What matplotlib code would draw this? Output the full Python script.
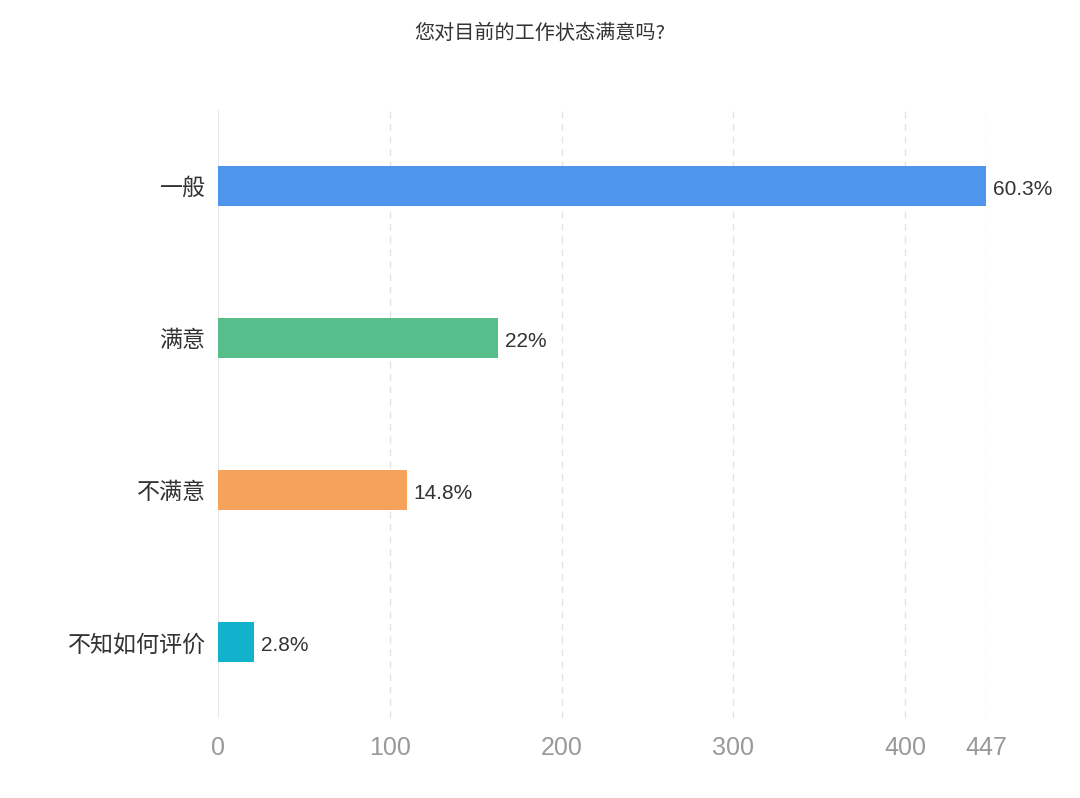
import matplotlib
matplotlib.use('Agg')
import matplotlib.pyplot as plt

plt.rcParams['font.family'] = ['Noto Sans CJK SC', 'DejaVu Sans']
num_font = ['Liberation Sans', 'DejaVu Sans']

categories = ['一般', '满意', '不满意', '不知如何评价']
counts = [447, 163, 110, 21]
pct_labels = ['60.3%', '22%', '14.8%', '2.8%']
colors = ['#4E95EE', '#55BE8A', '#F7A25B', '#10B2CC']
xticks = [0, 100, 200, 300, 400, 447]

fig = plt.figure(figsize=(10.8, 7.98), dpi=100)
ax = fig.add_axes([218/1080, 1-718/798, 768/1080, 608/798])

ypos = list(range(len(categories)))
ax.barh(ypos, counts, height=0.26, color=colors, zorder=3)
for y, c, t in zip(ypos, counts, pct_labels):
    ax.text(c + 4, y + 0.02, t, va='center', ha='left', fontsize=15,
            color='#333333', family=num_font)

ax.set_ylim(len(categories) - 0.5, -0.5)
ax.set_xlim(0, 447)
ax.set_yticks(ypos)
ax.set_yticklabels(categories, fontsize=16.6, color='#333333')
ax.set_xticks(xticks)
ax.set_xticklabels([str(v) for v in xticks], fontsize=18, color='#999999',
                   family=num_font)
ax.tick_params(axis='both', length=0)
ax.tick_params(axis='y', pad=9)
ax.tick_params(axis='x', pad=13)

for v in xticks[1:]:
    ax.axvline(v, color='#E3E3E3', linestyle=(0, (5, 4)), linewidth=1, zorder=1)
ax.axvline(0, color='#E3E3E3', linewidth=1.2, zorder=1)

for s in ax.spines.values():
    s.set_visible(False)

fig.text(0.5, 1-33/798, '您对目前的工作状态满意吗?', ha='center', va='center',
         fontsize=14.5, color='#333333')

fig.savefig('out.png', dpi=100, facecolor='white')
